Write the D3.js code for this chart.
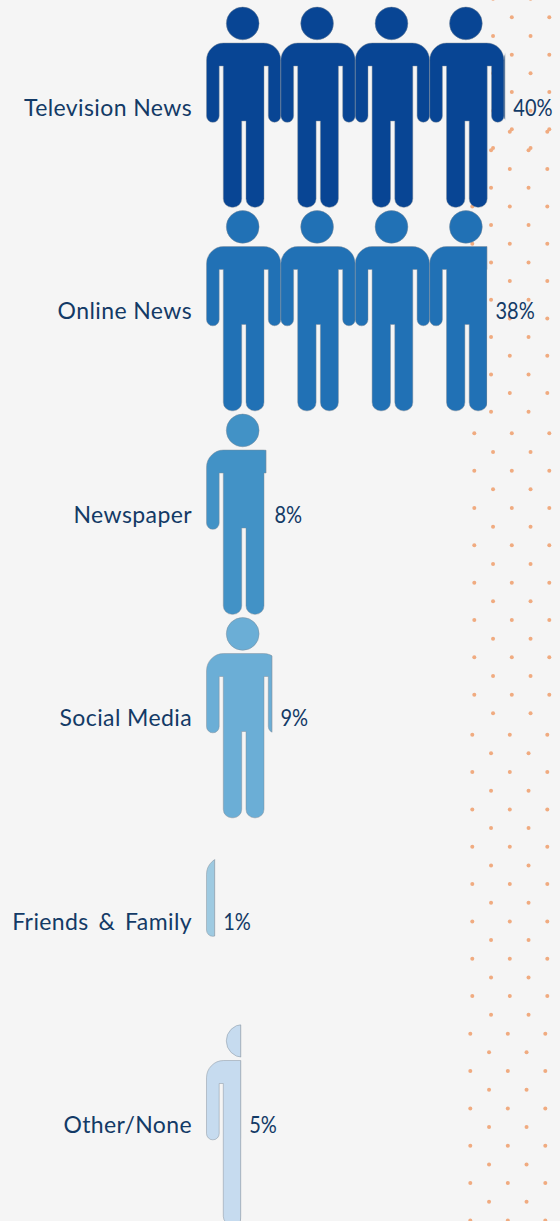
<!DOCTYPE html>
<html>
<head>
<meta charset="utf-8">
<script src="https://cdn.jsdelivr.net/npm/d3@7/dist/d3.min.js"></script>
<style>
html,body{margin:0;padding:0;background:#f5f5f5;overflow:hidden}
svg{display:block}
text{font-family:Lato,"Open Sans",sans-serif;fill:#133a66}
</style>
</head>
<body>
<svg id="chart" width="560" height="1221"></svg>
<script>
const categories = ["Television News","Online News","Newspaper","Social Media","Friends & Family","Other/None"];
const shares = [40.1, 37.7, 8, 8.8, 1.1, 4.6];
const fills = ["#084594","#2171b5","#4292c6","#6baed6","#9ecae1","#c6dbef"];
const perIcon = 10;
const dotTileRows = [10, 16, 16, 16, 11];
const dotTileTops = [-20, 131.7, 433.3, 734.7, 1033.7];
const dotTileLefts = [474.3, 472.3, 474.3, 472.3, 470.3];

const W = 560, H = 1221;
const svg = d3.select("#chart");
svg.append("rect").attr("width",W).attr("height",H).attr("fill","#f5f5f5");

// background dot texture
const rowStep = 18.67, colStep = 37.5;
const dots = svg.append("g").attr("fill","#f0ab80");
dotTileRows.forEach((n,t)=>{
  d3.range(n).forEach(r=>{
    const odd = r%2===1;
    const xs = odd ? [0,1] : [0,1,2];
    xs.forEach(c=>{
      dots.append("circle")
        .attr("cx", dotTileLefts[t] + (odd?colStep/2:0) + c*colStep)
        .attr("cy", dotTileTops[t] + r*rowStep)
        .attr("r",2);
    });
  });
});

// scales
const iconW = 74.4;
const x = d3.scaleLinear().domain([0,perIcon]).range([206.5,206.5+iconW]);
const y = d3.scaleBand().domain(categories).range([7,7+203.5*6]).paddingInner(0);

// person pictogram, local coordinates
const personBody = "M17,36H57A17.3,17.3 0 0 1 74.3,53.3V109A6.25,6.25 0 0 1 61.8,109V59H57.5V191.8A8.5,8.5 0 0 1 49,200.3H48A8.5,8.5 0 0 1 39.5,191.8V114H35.2V191.8A8.5,8.5 0 0 1 26.7,200.3H25.3A8.5,8.5 0 0 1 16.8,191.8V59H12.7V109A6.25,6.25 0 0 1 0,109V53.3A17.3,17.3 0 0 1 17,36Z";
const personHead = "M19.8,16.4A16.4,16.4 0 1 0 52.6,16.4A16.4,16.4 0 1 0 19.8,16.4Z";
const person = personHead + personBody;

const defs = svg.append("defs");
defs.append("clipPath").attr("id","personShape").append("path").attr("d",person);

const rows = svg.selectAll("g.row").data(categories).join("g").attr("class","row")
  .attr("transform",c=>`translate(0,${y(c)})`);

rows.each(function(c,i){
  const g = d3.select(this);
  const v = shares[i];
  const end = x(v);
  const cid = "clip"+i;
  defs.append("clipPath").attr("id",cid).append("rect")
    .attr("x",x(0)-2).attr("y",-2).attr("width",end-x(0)+2).attr("height",y.bandwidth()+4);
  const marks = g.append("g").attr("clip-path",`url(#${cid})`);
  const n = Math.ceil(v/perIcon);
  d3.range(n).forEach(k=>{
    const t = marks.append("g").attr("transform",`translate(${x(k*perIcon)},0)`);
    t.append("path").attr("d",person)
      .attr("fill",fills[i]).attr("stroke","#7f8a96").attr("stroke-opacity",.75).attr("stroke-width",.6);
  });
  // outline on the cut edge of the last, partial figure
  if (v%perIcon!==0){
    const k = n-1;
    g.append("g").attr("transform",`translate(${x(k*perIcon)},0)`)
      .append("g").attr("clip-path","url(#personShape)")
      .append("line").attr("x1",end-x(k*perIcon)).attr("x2",end-x(k*perIcon))
      .attr("y1",0).attr("y2",201)
      .attr("stroke","#7f8a96").attr("stroke-opacity",.75).attr("stroke-width",.8);
  }
  const mid = 100.8;
  g.append("text").attr("x",192).attr("y",mid).attr("dy","0.35em")
    .attr("text-anchor","end").attr("font-size",23).attr("letter-spacing",0.4)
    .attr("word-spacing",c.includes("&")?3.5:0).text(c);
  g.append("text").attr("transform",`translate(${end+8.5},${mid}) scale(0.87,1)`).attr("dy","0.35em")
    .attr("font-size",23).text(d3.format(".0f")(v)+"%");
});
</script>
</body>
</html>
